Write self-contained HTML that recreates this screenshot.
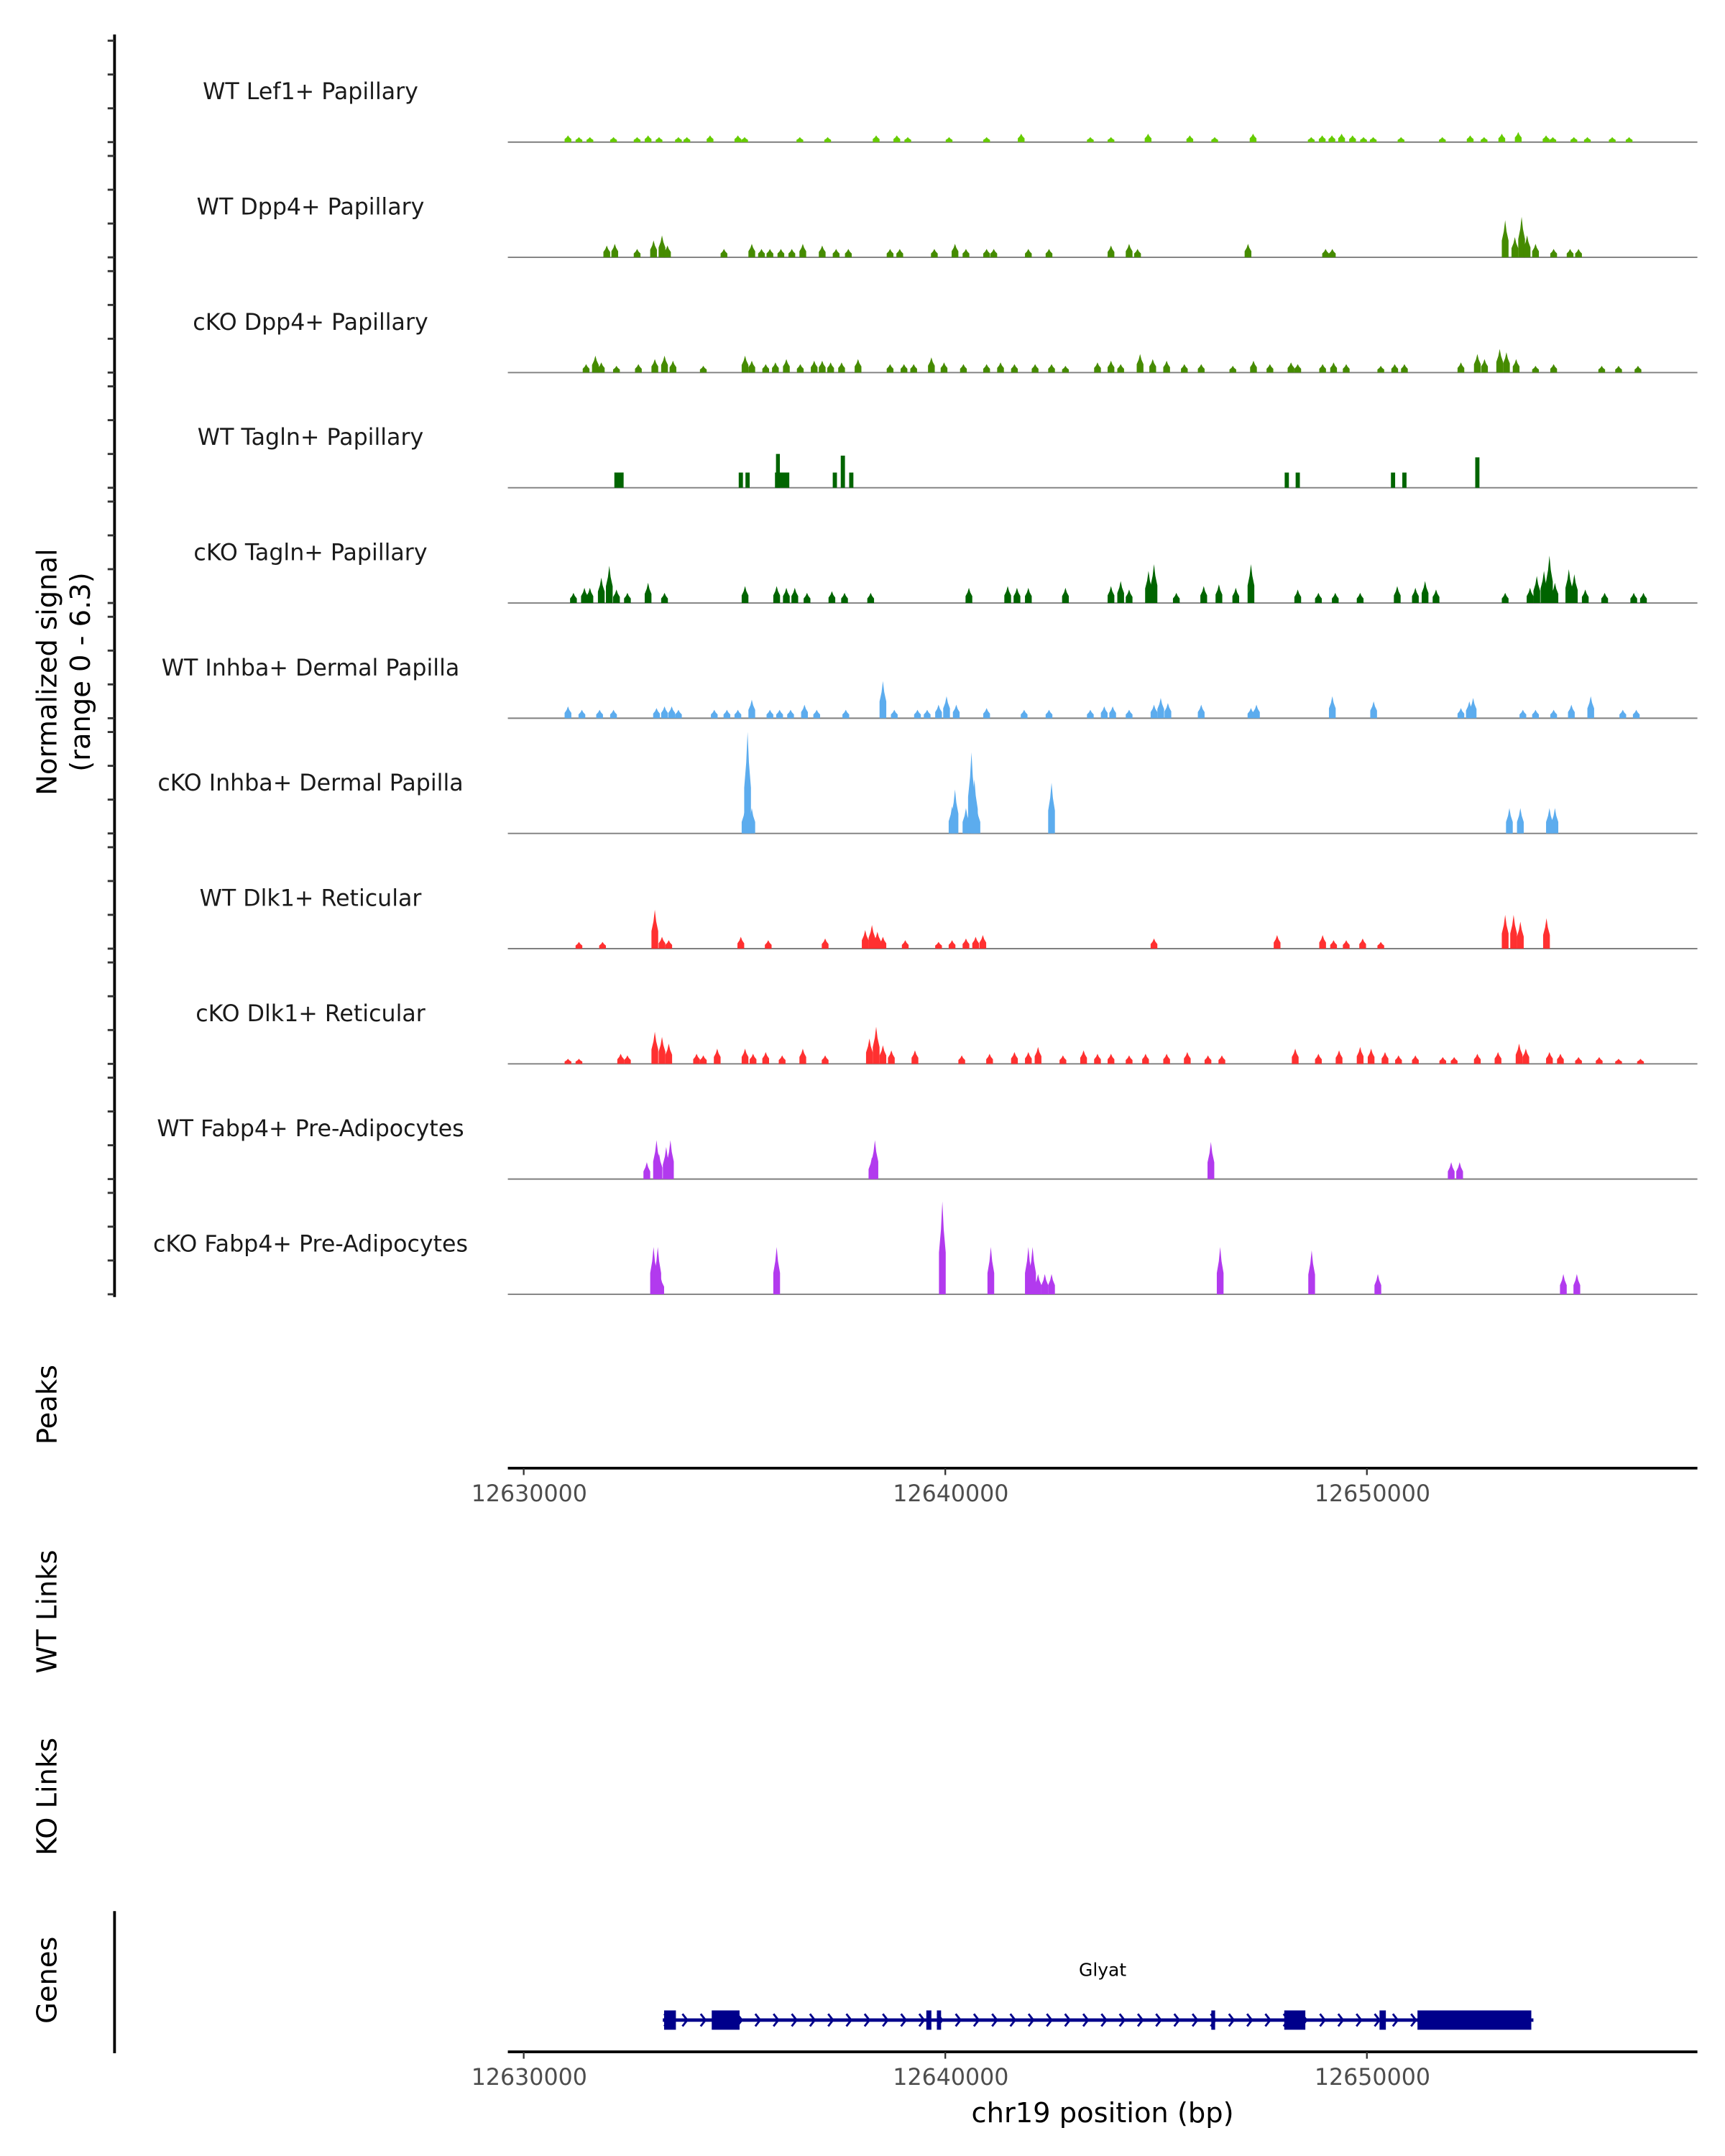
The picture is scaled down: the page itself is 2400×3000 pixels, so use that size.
<!DOCTYPE html>
<html><head><meta charset="utf-8"><style>
html,body{margin:0;padding:0;background:#fff;}
svg{display:block;font-family:"DejaVu Sans","Liberation Sans",sans-serif;}
</style></head><body>
<svg id="chart" xmlns="http://www.w3.org/2000/svg" width="2400" height="3000" viewBox="0 0 1250 1562.5">
<g id="tracks"></g>
<g id="yaxis"></g>
<text transform="translate(41,487) rotate(-90)" text-anchor="middle" font-size="20" fill="#000">Normalized signal</text>
<text transform="translate(65,487) rotate(-90)" text-anchor="middle" font-size="20" fill="#000">(range 0 - 6.3)</text>
<text transform="translate(41,1018) rotate(-90)" text-anchor="middle" font-size="20" fill="#000">Peaks</text>
<text transform="translate(41,1168) rotate(-90)" text-anchor="middle" font-size="20" fill="#000">WT Links</text>
<text transform="translate(41,1302) rotate(-90)" text-anchor="middle" font-size="20" fill="#000">KO Links</text>
<text transform="translate(41,1435) rotate(-90)" text-anchor="middle" font-size="20" fill="#000">Genes</text>
<line x1="83" y1="1385" x2="83" y2="1488" stroke="#000" stroke-width="2"/>
<g id="xaxis1"></g>
<g id="gene"></g>
<g id="xaxis2"></g>
<text x="799" y="1538" text-anchor="middle" font-size="20" fill="#000">chr19 position (bp)</text>
</svg>
<script>
// positions are kb offsets from chr19:12,630,000 ; heights are normalized signal
const trackNames = ["WT Lef1+ Papillary","WT Dpp4+ Papillary","cKO Dpp4+ Papillary","WT Tagln+ Papillary","cKO Tagln+ Papillary","WT Inhba+ Dermal Papilla","cKO Inhba+ Dermal Papilla","WT Dlk1+ Reticular","cKO Dlk1+ Reticular","WT Fabp4+ Pre-Adipocytes","cKO Fabp4+ Pre-Adipocytes"];
const trackColors = ["#66CC00","#458B00","#458B00","#006400","#006400","#5CACEE","#5CACEE","#FF3030","#FF3030","#B23AEE","#B23AEE"];
const pos0 = [1.05,1.31,1.57,2.13,2.69,2.95,3.21,3.67,3.87,4.42,5.08,5.24,6.55,7.21,8.36,8.85,9.11,10.09,10.98,11.80,13.44,13.93,14.81,15.80,16.39,17.30,18.68,18.94,19.17,19.40,19.66,19.92,20.15,20.81,21.79,22.45,22.78,23.20,23.59,24.25,24.41,24.91,25.23,25.82,26.22];
const val0 = [0.4,0.3,0.3,0.3,0.3,0.4,0.3,0.3,0.3,0.4,0.4,0.3,0.3,0.3,0.4,0.4,0.3,0.3,0.3,0.5,0.3,0.3,0.5,0.4,0.3,0.5,0.3,0.4,0.4,0.5,0.4,0.3,0.3,0.3,0.3,0.4,0.3,0.5,0.6,0.4,0.3,0.3,0.3,0.3,0.3];
const pos1 = [1.97,2.16,2.69,3.08,3.28,3.41,4.75,5.41,5.64,5.84,6.10,6.36,6.62,7.08,7.41,7.70,8.69,8.92,9.74,10.23,10.49,10.98,11.15,11.97,12.46,13.93,14.36,14.56,17.18,19.02,19.18,23.28,23.51,23.67,23.80,24.00,24.43,24.82,25.02];
const val1 = [0.7,0.8,0.5,1.0,1.3,0.7,0.5,0.8,0.5,0.5,0.5,0.5,0.8,0.7,0.5,0.5,0.5,0.5,0.5,0.8,0.5,0.5,0.5,0.5,0.5,0.7,0.8,0.5,0.8,0.5,0.5,2.2,1.2,2.4,1.3,0.8,0.5,0.5,0.5];
const pos2 = [1.48,1.70,1.84,2.20,2.72,3.11,3.34,3.54,4.26,5.25,5.41,5.74,5.97,6.23,6.56,6.89,7.08,7.28,7.54,7.93,8.69,9.02,9.25,9.67,9.97,10.43,10.98,11.31,11.64,12.13,12.52,12.85,13.61,13.93,14.16,14.62,14.92,15.25,15.67,16.07,16.82,17.31,17.70,18.20,18.36,18.95,19.21,19.51,20.33,20.66,20.89,22.23,22.62,22.79,23.15,23.31,23.54,24.00,24.43,25.57,25.97,26.43];
const val2 = [0.5,1.0,0.6,0.4,0.5,0.8,1.0,0.7,0.4,1.0,0.7,0.5,0.6,0.8,0.5,0.7,0.7,0.6,0.6,0.8,0.5,0.5,0.5,0.9,0.6,0.5,0.5,0.6,0.5,0.5,0.5,0.4,0.6,0.7,0.5,1.1,0.8,0.7,0.5,0.5,0.4,0.7,0.5,0.6,0.5,0.5,0.6,0.5,0.4,0.5,0.5,0.6,1.1,0.8,1.4,1.2,0.8,0.4,0.5,0.4,0.4,0.4];
const pos3 = [2.26,5.15,5.31,6.13,6.03,7.38,7.57,7.77,18.10,18.36,20.62,20.89,22.62];
const val3 = [0.9,0.9,0.9,0.9,2.0,0.9,1.9,0.9,0.9,0.9,0.9,0.9,1.8];
const wid3 = [0.22,0.1,0.1,0.34,0.06,0.1,0.1,0.1,0.1,0.1,0.1,0.1,0.1];
const pos4 = [1.18,1.44,1.57,1.84,2.03,2.20,2.46,2.95,3.34,5.25,6.00,6.23,6.43,6.72,7.31,7.61,8.23,10.56,11.48,11.70,11.97,12.85,13.93,14.16,14.36,14.82,14.95,15.48,16.13,16.49,16.89,17.25,18.36,18.85,19.25,19.84,20.72,21.15,21.38,21.64,23.28,23.87,24.03,24.20,24.33,24.46,24.79,24.92,25.18,25.64,26.33,26.56];
const val4 = [0.6,0.9,0.9,1.5,2.2,0.8,0.6,1.2,0.6,1.0,1.0,0.9,0.9,0.6,0.7,0.6,0.6,0.9,1.0,0.9,0.9,0.9,1.0,1.3,0.8,1.9,2.3,0.6,1.0,1.1,0.9,2.3,0.8,0.6,0.6,0.6,1.0,0.9,1.3,0.8,0.6,0.9,1.6,1.9,2.8,1.2,2.0,1.7,0.8,0.6,0.6,0.6];
const pos5 = [1.05,1.38,1.80,2.13,3.15,3.34,3.51,3.67,4.52,4.82,5.08,5.41,5.84,6.07,6.33,6.66,6.95,7.64,8.52,8.79,9.34,9.57,9.84,10.03,10.26,10.98,11.87,12.46,13.44,13.77,13.97,14.36,14.95,15.11,15.28,16.07,17.25,17.38,19.18,20.16,22.23,22.43,22.52,23.70,24.00,24.43,24.85,25.31,26.07,26.39];
const val5 = [0.7,0.5,0.5,0.5,0.6,0.7,0.7,0.5,0.5,0.5,0.5,1.1,0.5,0.5,0.5,0.8,0.5,0.5,2.2,0.5,0.5,0.5,0.8,1.3,0.8,0.6,0.5,0.5,0.5,0.7,0.7,0.5,0.8,1.2,0.9,0.8,0.6,0.8,1.3,1.0,0.6,1.0,1.2,0.5,0.5,0.5,0.8,1.3,0.5,0.5];
const pos6 = [5.25,5.31,5.41,10.16,10.23,10.49,10.62,10.69,10.75,12.52,23.38,23.64,24.33,24.46];
const val6 = [1.5,6.0,1.5,1.6,2.6,1.5,4.8,3.2,1.5,3.0,1.5,1.5,1.5,1.5];
const pos7 = [1.31,1.87,3.11,3.28,3.44,5.15,5.80,7.15,8.10,8.26,8.39,8.52,9.05,9.84,10.16,10.49,10.72,10.89,14.95,17.87,18.95,19.21,19.51,19.90,20.33,23.28,23.48,23.64,24.26];
const val7 = [0.4,0.4,2.3,0.7,0.5,0.7,0.5,0.6,1.1,1.4,1.0,0.7,0.5,0.4,0.5,0.6,0.7,0.8,0.6,0.8,0.8,0.5,0.5,0.6,0.4,2.0,2.0,1.6,1.8];
const pos8 = [1.05,1.31,2.30,2.46,3.11,3.28,3.44,4.10,4.26,4.59,5.25,5.44,5.74,6.13,6.62,7.15,8.20,8.36,8.52,8.72,9.28,10.39,11.05,11.64,11.97,12.20,12.79,13.28,13.61,13.93,14.36,14.75,15.25,15.74,16.23,16.56,18.30,18.85,19.34,19.84,20.10,20.43,20.75,21.15,21.80,22.07,22.62,23.11,23.61,23.77,24.33,24.59,25.02,25.51,25.97,26.49];
const val8 = [0.3,0.3,0.6,0.5,1.9,1.6,1.2,0.6,0.5,0.9,0.9,0.6,0.7,0.5,0.9,0.5,1.5,2.2,1.1,0.8,0.8,0.5,0.6,0.7,0.7,1.0,0.5,0.8,0.6,0.6,0.5,0.6,0.6,0.7,0.5,0.5,0.9,0.6,0.8,1.0,0.9,0.7,0.5,0.5,0.4,0.4,0.6,0.7,1.2,0.9,0.7,0.6,0.4,0.4,0.3,0.3];
const pos9 = [2.92,3.15,3.21,3.38,3.48,8.26,8.33,16.30,22.00,22.20];
const val9 = [1.0,2.3,1.5,1.9,2.3,1.3,2.3,2.2,1.0,1.0];
const pos10 = [3.08,3.18,3.25,6.00,9.93,11.08,11.97,12.07,12.20,12.36,12.52,16.52,18.69,20.26,24.66,24.98];
const val10 = [2.8,2.8,1.0,2.8,5.5,2.8,2.8,2.8,1.2,1.2,1.2,2.8,2.6,1.2,1.2,1.2];
const trackPos = [pos0,pos1,pos2,pos3,pos4,pos5,pos6,pos7,pos8,pos9,pos10];
const trackVal = [val0,val1,val2,val3,val4,val5,val6,val7,val8,val9,val10];
const trackWid = [null,null,null,wid3,null,null,null,null,null,null,null];
const xTicks = [12630000,12640000,12650000];
const geneExonStart = [3.33,4.46,9.55,9.80,16.31,18.04,20.30,21.20];
const geneExonEnd = [3.61,5.12,9.67,9.90,16.40,18.54,20.45,23.90];
const geneStart = 3.30, geneEnd = 23.95;

const NS="http://www.w3.org/2000/svg";
function mk(tag, attrs, parent){const e=document.createElementNS(NS,tag);for(const k in attrs)e.setAttribute(k,attrs[k]);parent.appendChild(e);return e;}
const X0=379.5, KB=30.55, XL=368, XR=1230;
function xs(kb){return X0+kb*KB;}
function xbp(bp){return xs((bp-12630000)/1000);}
const UNIT=12.25;
function base(i){return 103+i*83.5;}

const tg=document.getElementById('tracks');
trackNames.forEach((nm,i)=>{
  const b=base(i);
  const g=mk('g',{},tg);
  
  
  const t=mk('text',{x:225,y:b-31,'text-anchor':'middle','font-size':'16.5',fill:'#1a1a1a'},g);
  t.textContent=nm;
  
  
  const l=mk('line',{x1:XL,y1:b,x2:XR,y2:b,stroke:'#7f7f7f','stroke-width':'1'},g);
  
  
  const ps=trackPos[i], vs=trackVal[i], ws=trackWid[i];
  ps.forEach((p,j)=>{
    const w=ws?ws[j]:0.16;
    const hw=Math.max(1.4,w*KB/2);
    const x=xs(p), h=vs[j]*UNIT;
    const pts=ws?[[x-hw,b],[x-hw,b-h],[x+hw,b-h],[x+hw,b]]:[[x-hw,b],[x-hw,b-h*0.45],[x-hw*0.4,b-h*0.7],[x,b-h],[x+hw*0.4,b-h*0.7],[x+hw,b-h*0.45],[x+hw,b]];
    const pg=mk('polygon',{points:pts.map(q=>q.join(',')).join(' '),fill:trackColors[i]},g);
    
    
  });
});

const ya=document.getElementById('yaxis');
mk('line',{x1:83,y1:25,x2:83,y2:940,stroke:'#000','stroke-width':'2'},ya);
for(let i=0;i<11;i++){
  for(let k=0;k<4;k++){
    const y=base(i)-k*2*UNIT;
    const tk=mk('line',{x1:78,y1:y,x2:83,y2:y,stroke:'#333','stroke-width':'1.5'},ya);
    
    
  }
}

function xaxis(id,y){
  const g=document.getElementById(id);
  mk('line',{x1:XL,y1:y,x2:XR,y2:y,stroke:'#000','stroke-width':'2'},g);
  xTicks.forEach(v=>{
    const x=xbp(v);
    const tk=mk('line',{x1:x,y1:y,x2:x,y2:y+5,stroke:'#333','stroke-width':'1.2'},g);
    
    
    const t=mk('text',{x:x+4,y:y+24,'text-anchor':'middle','font-size':'16.5',fill:'#4d4d4d'},g);
    t.textContent=String(v);
    
    
  });
}
xaxis('xaxis1',1064);
xaxis('xaxis2',1487);

const gg=document.getElementById('gene');
const gy=1464;
const gl=mk('line',{x1:xs(geneStart),y1:gy,x2:xs(geneEnd),y2:gy,stroke:'#00008B','stroke-width':'2.5'},gg);


for(let x=xs(geneStart)+3;x<xs(geneEnd);x+=13.2){
  const c=mk('polyline',{points:`${x-2},${gy-4.5} ${x+1.5},${gy} ${x-2},${gy+4.5}`,fill:'none',stroke:'#00008B','stroke-width':'1.5'},gg);
  
  
}
geneExonStart.forEach((s,i)=>{
  const r=mk('rect',{x:xs(s),y:gy-7,width:xs(geneExonEnd[i])-xs(s),height:14,fill:'#00008B'},gg);
  
  
});
const gt=mk('text',{x:799,y:1432,'text-anchor':'middle','font-size':'13',fill:'#000'},gg);
gt.textContent='Glyat';


</script>
</body></html>
